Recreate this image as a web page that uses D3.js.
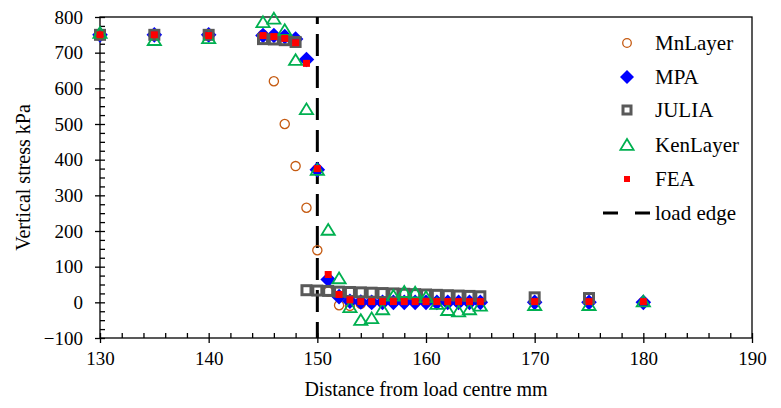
<!DOCTYPE html>
<html>
<head>
<meta charset="utf-8">
<script src="https://cdn.jsdelivr.net/npm/d3@7"></script>
<style>
  body { margin: 0; background: #fff; }
  svg text { font-family: "Liberation Serif", "Times New Roman", Times, serif; fill: #000; }
</style>
</head>
<body>
<div id="chart"></div>
<script>
/**
 * Data
 */
const xFine = [130, 135, 140, 145, 146, 147, 148, 149, 150, 151, 152, 153, 154, 155, 156,
  157, 158, 159, 160, 161, 162, 163, 164, 165, 170, 175, 180];
const mnLayer = [750, 750, 750, 750, 620, 500, 382, 265, 146, 30, -8, -10, -4, -2, -1,
  0, 0, 0, 0, 0, 0, 0, 0, 0, 0, 0, 0];
const mpa = [750, 750, 750, 748, 748, 745, 738, 681, 372, 64, 16, 3, 1, 0, 0,
  0, 0, 0, 0, 0, 0, 0, 0, 0, 0, 0, 0];
const xJulia = [130, 135, 140, 145, 146, 147, 148, 149, 150, 151, 152, 153, 154, 155, 156,
  157, 158, 159, 160, 161, 162, 163, 164, 165, 170, 175];
const julia = [750, 750, 750, 738, 737, 735, 730, 34, 33, 32, 30, 29, 28, 27, 26,
  25, 24, 23, 22, 21, 20, 19, 18, 17, 14, 12];
const kenLayer = [755, 735, 740, 785, 795, 763, 679, 541, 371, 203, 67, -14, -50, -45, -20,
  18, 29, 27, 14, -5, -22, -26, -20, -10, -8, -8, 2];
const fea = [750, 750, 748, 748, 745, 740, 728, 670, 375, 78, 22, 7, 2, 2, 2,
  2, 2, 2, 2, 2, 2, 2, 2, 2, 2, 2, 2];
const loadEdgeX = [150, 150];
const loadEdgeY = [800, -100];

const xTicks = [130, 140, 150, 160, 170, 180, 190];
const yTicks = [-100, 0, 100, 200, 300, 400, 500, 600, 700, 800];

/**
 * Globals
 */
const W = 781, H = 408;
const plot = { l: 100, r: 752, t: 17, b: 338 };
const FONT = "'Liberation Serif', 'Times New Roman', Times, serif";

var scale = {
  x: d3.scaleLinear().domain([130, 190]).range([plot.l, plot.r]),
  y: d3.scaleLinear().domain([-100, 800]).range([plot.b, plot.t]),
};

var svg = d3.select("#chart").append("svg")
  .attr("width", W)
  .attr("height", H)
  .attr("font-family", FONT);

function pts(xs, ys) {
  return xs.map(function (x, i) { return { x: x, y: ys[i] }; });
}

// marker shapes
var shapes = {
  circle: function (g, s) {
    g.append("circle").attr("r", s.r).attr("fill", "none")
      .attr("stroke", s.color).attr("stroke-width", 1.3);
  },
  diamond: function (g, s) {
    var r = s.r;
    g.append("path").attr("d", "M0," + (-r) + "L" + r + ",0L0," + r + "L" + (-r) + ",0Z")
      .attr("fill", s.color);
  },
  hsquare: function (g, s) {
    g.append("rect").attr("x", -s.r).attr("y", -s.r)
      .attr("width", 2 * s.r).attr("height", 2 * s.r)
      .attr("fill", "none").attr("stroke", s.color).attr("stroke-width", 3);
  },
  triangle: function (g, s) {
    var r = s.r;
    g.append("path").attr("d", "M0," + (-r) + "L" + (r * 1.1) + "," + (r * 0.8) + "L" + (-r * 1.1) + "," + (r * 0.8) + "Z")
      .attr("fill", "none").attr("stroke", s.color).attr("stroke-width", 1.8);
  },
  square: function (g, s) {
    g.append("rect").attr("x", -s.r).attr("y", -s.r)
      .attr("width", 2 * s.r).attr("height", 2 * s.r).attr("fill", s.color);
  },
};

var series = [
  { name: "MnLayer", data: pts(xFine, mnLayer), shape: "circle", color: "#C55A11", r: 4.6, lr: 4.3 },
  { name: "MPA", data: pts(xFine, mpa), shape: "diamond", color: "#0000FF", r: 7.8, lr: 7 },
  { name: "JULIA", data: pts(xJulia, julia), shape: "hsquare", color: "#595959", r: 4.5, lr: 4 },
  { name: "KenLayer", data: pts(xFine, kenLayer), shape: "triangle", color: "#00B050", r: 6, lr: 6 },
  { name: "FEA", data: pts(xFine, fea), shape: "square", color: "#FF0000", r: 3.5, lr: 3 },
];

/**
 * Axes & frame
 */
svg.append("rect")
  .attr("x", plot.l).attr("y", plot.t)
  .attr("width", plot.r - plot.l).attr("height", plot.b - plot.t)
  .attr("fill", "none").attr("stroke", "#000").attr("stroke-width", 1.3);

// x axis: major ticks crossing, minor ticks inside every 2
var xAxisG = svg.append("g").attr("transform", "translate(0," + plot.b + ")");
xAxisG.call(d3.axisBottom(scale.x).tickValues(xTicks).tickSize(5).tickPadding(5).tickFormat(d3.format("d")));
svg.append("g").attr("transform", "translate(0," + plot.b + ")")
  .call(d3.axisTop(scale.x).tickValues(d3.range(130, 191, 2)).tickSize(5).tickFormat(""));

// y axis: major crossing, minor inside every 25
var yAxisG = svg.append("g").attr("transform", "translate(" + plot.l + ",0)");
yAxisG.call(d3.axisLeft(scale.y).tickValues(yTicks).tickSize(5).tickPadding(12).tickFormat(d3.format("d")));
svg.append("g").attr("transform", "translate(" + plot.l + ",0)")
  .call(d3.axisRight(scale.y).tickValues(d3.range(-100, 801, 25)).tickSize(5).tickFormat(""));

svg.selectAll("g").attr("font-family", FONT);
svg.selectAll(".domain").remove();
svg.selectAll(".tick line").attr("stroke", "#000").attr("stroke-width", 1.3);
svg.selectAll(".tick text")
  .style("font-size", "19px")
  .attr("fill", "#000");
xAxisG.selectAll(".tick text").attr("dy", "0.9em");

// axis titles
svg.append("text")
  .attr("x", (plot.l + plot.r) / 2).attr("y", 396)
  .attr("text-anchor", "middle").style("font-size", "20px")
  .text("Distance from load centre mm");
svg.append("text")
  .attr("transform", "translate(30," + (plot.t + plot.b) / 2 + ") rotate(-90)")
  .attr("text-anchor", "middle").style("font-size", "20px")
  .text("Vertical stress kPa");

/**
 * Load edge line
 */
svg.append("line")
  .attr("x1", scale.x(loadEdgeX[0])).attr("y1", scale.y(loadEdgeY[0]))
  .attr("x2", scale.x(loadEdgeX[1])).attr("y2", scale.y(loadEdgeY[1]))
  .attr("stroke", "#000").attr("stroke-width", 3)
  .attr("stroke-dasharray", "22,10").attr("stroke-dashoffset", 15);

/**
 * Markers
 */
series.forEach(function (s) {
  var g = svg.append("g").attr("class", "series");
  g.selectAll("g.pt").data(s.data).enter().append("g")
    .attr("class", "pt")
    .attr("transform", function (d) {
      return "translate(" + scale.x(d.x) + "," + scale.y(d.y) + ")";
    })
    .each(function () { shapes[s.shape](d3.select(this), s); });
});

/**
 * Legend
 */
var legend = svg.append("g");
var rowY = [43, 77, 110, 145, 179, 213];
series.forEach(function (s, i) {
  var g = legend.append("g").attr("transform", "translate(627," + rowY[i] + ")");
  shapes[s.shape](g, { r: s.lr, color: s.color });
  legend.append("text").attr("x", 655).attr("y", rowY[i] + 7)
    .style("font-size", "21px").text(s.name);
});
legend.append("line")
  .attr("x1", 603).attr("x2", 650).attr("y1", rowY[5]).attr("y2", rowY[5])
  .attr("stroke", "#000").attr("stroke-width", 3)
  .attr("stroke-dasharray", "15,17");
legend.append("text").attr("x", 655).attr("y", rowY[5] + 7)
  .style("font-size", "21px").text("load edge");
</script>
</body>
</html>
